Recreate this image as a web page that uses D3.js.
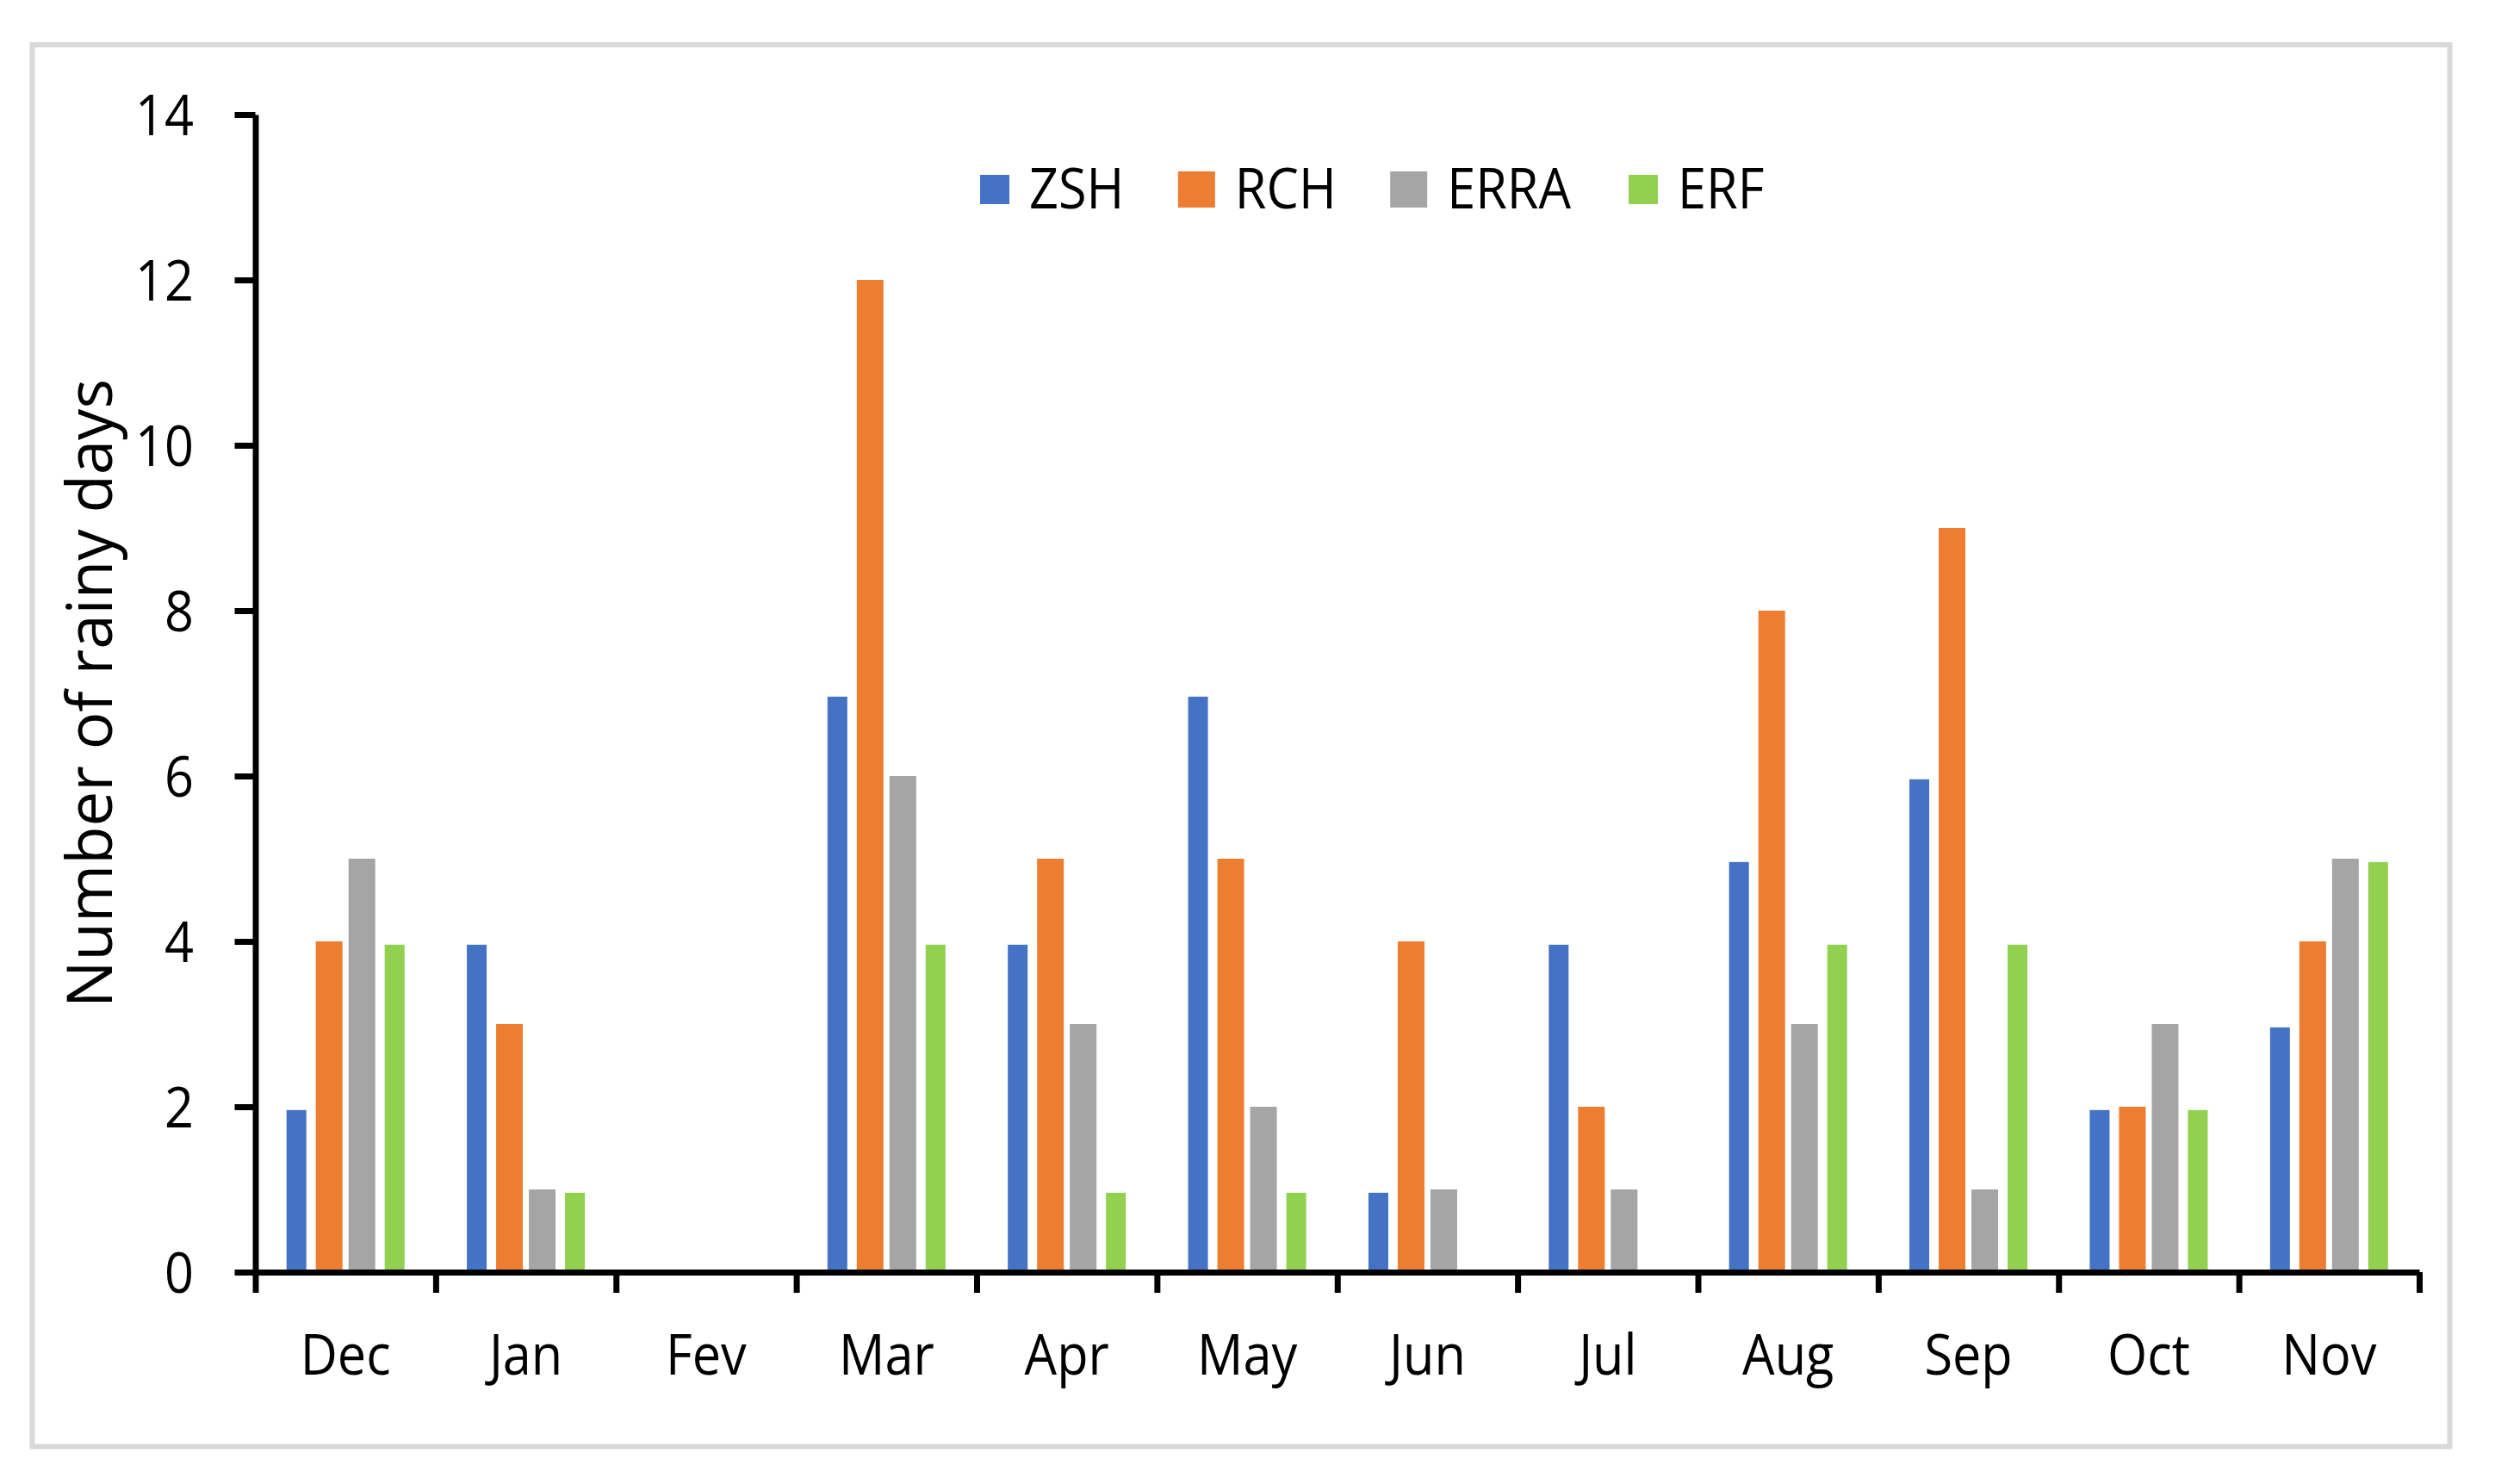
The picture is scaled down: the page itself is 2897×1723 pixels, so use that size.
<!DOCTYPE html>
<html>
<head>
<meta charset="utf-8">
<script src="https://cdn.jsdelivr.net/npm/d3@7"></script>
<style>
  html, body { margin: 0; padding: 0; background: #ffffff; }
  svg { display: block; }
  text { font-family: "Open Sans", "Noto Sans", sans-serif; fill: #000; }
</style>
</head>
<body>
<script>
// ---- data ----
const months = ["Dec", "Jan", "Fev", "Mar", "Apr", "May", "Jun", "Jul", "Aug", "Sep", "Oct", "Nov"];
const seriesNames = ["ZSH", "RCH", "ERRA", "ERF"];
const ZSH  = [1.96, 3.96, 0, 6.96, 3.96, 6.96, 0.96, 3.96, 4.96, 5.96, 1.96, 2.96];
const RCH  = [4, 3, 0, 12, 5, 5, 4, 2, 8, 9, 2, 4];
const ERRA = [5, 1, 0, 6, 3, 2, 1, 1, 3, 1, 3, 5];
const ERF  = [3.96, 0.96, 0, 3.96, 0.96, 0.96, 0, 0, 3.96, 3.96, 1.96, 4.96];
const yTicks = [0, 2, 4, 6, 8, 10, 12, 14];
const yLabel = "Number of rainy days";

(function () {
// ---- styles ----
const colors = ["#4472C4", "#ED7D31", "#A5A5A5", "#92D050"];
const barWidths = [23, 31, 31, 23];
const legendSq = [[34, 34], [43, 42], [43, 42], [34, 34]];

const W = 2897, H = 1723;
const svg = d3.select("body").append("svg").attr("width", W).attr("height", H);

// outer border
svg.append("rect")
  .attr("x", 37.5).attr("y", 52)
  .attr("width", 2844.5 - 37.5).attr("height", 1679.5 - 52)
  .attr("fill", "#fff").attr("stroke", "#D9D9D9").attr("stroke-width", 6);

const pLeft = 296.5, pRight = 2809, pTop = 133, pBottom = 1477;

const y = d3.scaleLinear().domain([0, 14]).range([pBottom, pTop]);
const x0 = d3.scaleBand().domain(months).range([pLeft, pRight]).padding(0);
const bw = x0.bandwidth();
const x1 = d3.scalePoint().domain(seriesNames).range([bw / 2 - 57, bw / 2 + 57]);

const data = [ZSH, RCH, ERRA, ERF];

// bars
const groups = svg.append("g").selectAll("g")
  .data(months).join("g")
  .attr("transform", d => `translate(${x0(d)},0)`);

groups.selectAll("rect")
  .data((m, i) => seriesNames.map((s, k) => ({ s, k, v: data[k][i] })))
  .join("rect")
  .attr("x", d => x1(d.s) - barWidths[d.k] / 2)
  .attr("width", d => barWidths[d.k])
  .attr("y", d => y(d.v))
  .attr("height", d => y(0) - y(d.v))
  .attr("fill", d => colors[d.k]);

// y axis
const yAxis = svg.append("g")
  .attr("transform", `translate(${pLeft},0)`)
  .call(d3.axisLeft(y).tickValues(yTicks).tickSize(24).tickSizeOuter(0).tickPadding(0));
yAxis.select(".domain").attr("stroke", "#000").attr("stroke-width", 7);
yAxis.selectAll(".tick line").attr("stroke", "#000").attr("stroke-width", 7);
yAxis.selectAll(".tick text")
  .attr("x", 0).attr("dy", "0.36em")
  .attr("font-size", 66)
  .attr("text-anchor", "end")
  .attr("transform", "translate(-71.5,0) scale(0.9,1)");

// x axis boundaries (ticks at category edges)
const xEdge = d3.scaleLinear().domain([0, months.length]).range([pLeft, pRight]);
const xAxisEdges = svg.append("g")
  .attr("transform", `translate(0,${pBottom})`)
  .call(d3.axisBottom(xEdge).tickValues(d3.range(months.length + 1)).tickFormat("").tickSize(24).tickSizeOuter(0));
xAxisEdges.select(".domain").attr("stroke", "#000").attr("stroke-width", 7);
xAxisEdges.selectAll(".tick line").attr("stroke", "#000").attr("stroke-width", 7);

// x axis labels
const xAxisLabels = svg.append("g")
  .attr("transform", `translate(0,${pBottom})`)
  .call(d3.axisBottom(x0).tickSize(0).tickPadding(72));
xAxisLabels.select(".domain").remove();
xAxisLabels.selectAll(".tick text")
  .attr("font-size", 66)
  .attr("dy", "0.71em")
  .attr("transform", "scale(0.9,1)");

// y label
svg.append("text")
  .attr("transform", `translate(130,${(pTop + pBottom) / 2}) rotate(-90) scale(0.98,1)`)
  .attr("text-anchor", "middle")
  .attr("font-size", 74)
  .text(yLabel);

// legend
const legend = svg.append("g");
let cx = 1155;
seriesNames.forEach((s, k) => {
  const [sw, sh] = legendSq[k];
  legend.append("rect")
    .attr("x", cx - sw / 2).attr("y", 220 - sh / 2)
    .attr("width", sw).attr("height", sh)
    .attr("fill", colors[k]);
  const tx = cx + sw / 2 + 23;
  const t = legend.append("text")
    .attr("transform", `translate(${tx},242) scale(0.9,1)`)
    .attr("font-size", 66)
    .text(s);
  const len = t.node().getComputedTextLength() * 0.9;
  cx = tx + len + 84;
});
})();
</script>
</body>
</html>
